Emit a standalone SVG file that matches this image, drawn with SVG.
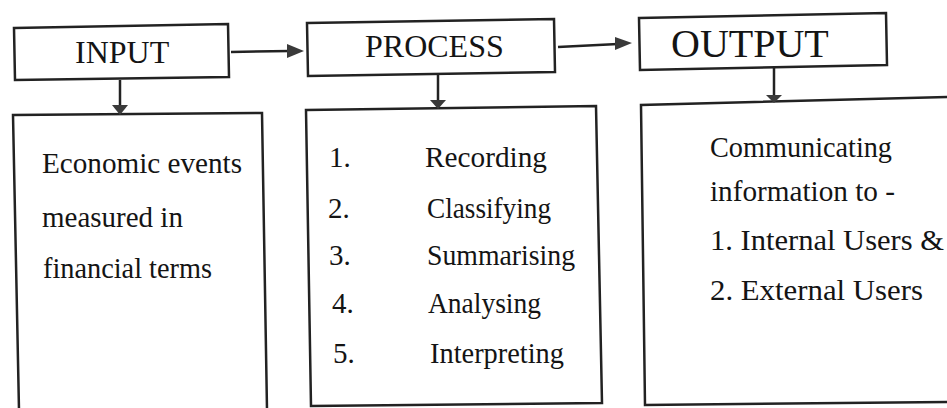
<svg xmlns="http://www.w3.org/2000/svg" width="947" height="408" viewBox="0 0 947 408">
<style>
.box{fill:none;stroke:#222;stroke-width:2.5;stroke-linejoin:miter}
.conn{fill:none;stroke:#222;stroke-width:2.5}
.head{fill:#3a3a3a;stroke:none}
text{font-family:"Liberation Serif","Times New Roman",serif;fill:#141414}
.t{font-family:"Liberation Serif","Times New Roman",serif;font-size:29px}
.o{font-family:"Liberation Serif","Times New Roman",serif;font-size:28.5px}
</style>
<rect width="947" height="408" fill="#ffffff"/>
<g id="input">
<path class="box" d="M14,28 L228,24 L229,77 L15,80 Z"/>
<text x="75" y="63" style="font-size:32px">INPUT</text>
</g>
<g id="process">
<path class="box" d="M307,23 L554,19 L555,72 L308,76 Z"/>
<text x="365" y="57" style="font-size:32px">PROCESS</text>
</g>
<g id="output">
<path class="box" d="M639,18 L886,13 L887,65 L640,70 Z"/>
<text x="671" y="57" style="font-size:40px">OUTPUT</text>
</g>
<g id="input-detail">
<path class="box" d="M19,410 L13,115 L262,113 L267,410"/>
<text class="t" x="42" y="173" textLength="200" lengthAdjust="spacingAndGlyphs">Economic events</text>
<text class="t" x="42" y="227">measured in</text>
<text class="t" x="43" y="278" textLength="169" lengthAdjust="spacingAndGlyphs">financial terms</text>
</g>
<g id="process-detail">
<path class="box" d="M306,110 L596,106 L602,403 L311,406 Z"/>
<text class="t" x="329" y="167">1.</text>
<text class="t" x="425" y="167" textLength="122" lengthAdjust="spacingAndGlyphs">Recording</text>
<text class="t" x="328" y="218">2.</text>
<text class="t" x="427" y="218" textLength="124" lengthAdjust="spacingAndGlyphs">Classifying</text>
<text class="t" x="329" y="265">3.</text>
<text class="t" x="427" y="265" textLength="148" lengthAdjust="spacingAndGlyphs">Summarising</text>
<text class="t" x="332" y="313">4.</text>
<text class="t" x="428" y="313" textLength="113" lengthAdjust="spacingAndGlyphs">Analysing</text>
<text class="t" x="333" y="363">5.</text>
<text class="t" x="430" y="363" textLength="134" lengthAdjust="spacingAndGlyphs">Interpreting</text>
</g>
<g id="output-detail">
<path class="box" d="M950,97 L641,105 L645,405 L950,402"/>
<text class="o" x="710" y="157" textLength="182" lengthAdjust="spacingAndGlyphs">Communicating</text>
<text class="o" x="710" y="201" textLength="185" lengthAdjust="spacingAndGlyphs">information to -</text>
<text class="o" x="710" y="250" textLength="234" lengthAdjust="spacingAndGlyphs">1. Internal Users &amp;</text>
<text class="o" x="710" y="300" textLength="213" lengthAdjust="spacingAndGlyphs">2. External Users</text>
</g>
<g id="connectors">
<path class="conn" d="M231,52 L290,51"/>
<path class="head" d="M287,44 L304,51 L287,58 Z"/>
<path class="conn" d="M558,47 L618,44"/>
<path class="head" d="M615,37 L632,43 L615,50 Z"/>
<path class="conn" d="M120,80 L120,107"/>
<path class="head" d="M112,105 L128,105 L120,115 Z"/>
<path class="conn" d="M438,74 L438,102"/>
<path class="head" d="M430,100 L446,100 L438,109 Z"/>
<path class="conn" d="M774,67 L774,97"/>
<path class="head" d="M766,95 L782,95 L774,103 Z"/>
</g>
</svg>
